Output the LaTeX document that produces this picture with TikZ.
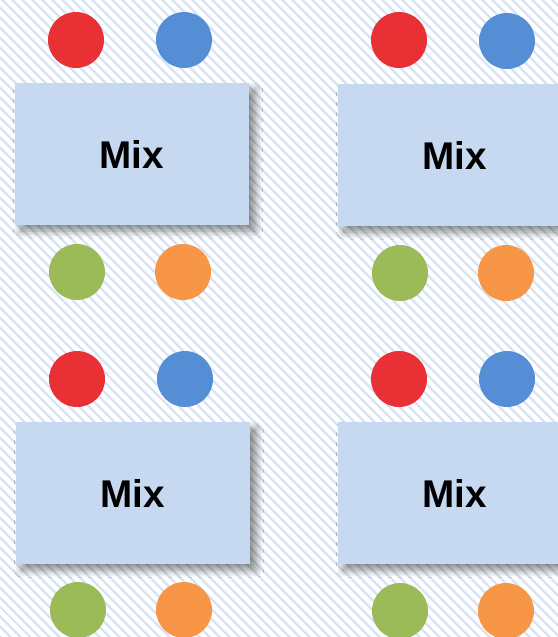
\documentclass[tikz,border=0pt]{standalone}
\usepackage{fontspec}
\setmainfont{Liberation Sans}
\usetikzlibrary{patterns.meta,shadows.blur}
\definecolor{mixred}{HTML}{E83035}
\definecolor{mixblue}{HTML}{558ED5}
\definecolor{mixgreen}{HTML}{9BBB59}
\definecolor{mixorange}{HTML}{F79646}
\definecolor{mixfill}{HTML}{C6D9F0}
\newcommand{\blob}[3]{\node[blob,fill=#3] (#1) at (#2) {}}

\begin{document}
\begin{tikzpicture}[x=0.02cm,y=-0.02cm,
	mixbox/.style={rectangle,fill=mixfill,minimum width=4.7cm,minimum height=2.84cm,
		font=\fontsize{22}{26}\selectfont\bfseries,
		blur shadow={shadow xshift=3.5pt,shadow yshift=-3.5pt,shadow blur radius=4pt,
			shadow blur steps=12,shadow opacity=45}},
	blob/.style={circle,inner sep=0pt,minimum size=1.12cm}]
	\useasboundingbox (0,0) rectangle (558,637);
	\clip (0,0) rectangle (558,637);
	\fill[pattern={Lines[angle=-45,distance=4pt,line width=1.3pt]},pattern color=mixfill!75] (0,0) rectangle (558,637);
		\node[mixbox] (mixtl) at (132,154) {Mix};
		\node[mixbox] (mixtr) at (455,155) {Mix};
		\node[mixbox] (mixbl) at (133,493) {Mix};
		\node[mixbox] (mixbr) at (455,493) {Mix};
			\blob{redtl}{76,40}{mixred};
			\blob{bluetl}{184,40}{mixblue};
			\blob{greentl}{77,272}{mixgreen};
			\blob{orangetl}{183,272}{mixorange};
			\blob{redtr}{399,40}{mixred};
			\blob{bluetr}{507,41}{mixblue};
			\blob{greentr}{400,273}{mixgreen};
			\blob{orangetr}{506,273}{mixorange};
			\blob{redbl}{77,379}{mixred};
			\blob{bluebl}{185,379}{mixblue};
			\blob{greenbl}{78,610}{mixgreen};
			\blob{orangebl}{184,610}{mixorange};
			\blob{redbr}{399,379}{mixred};
			\blob{bluebr}{507,379}{mixblue};
			\blob{greenbr}{400,611}{mixgreen};
			\blob{orangebr}{506,611}{mixorange};
\end{tikzpicture}
\end{document}
